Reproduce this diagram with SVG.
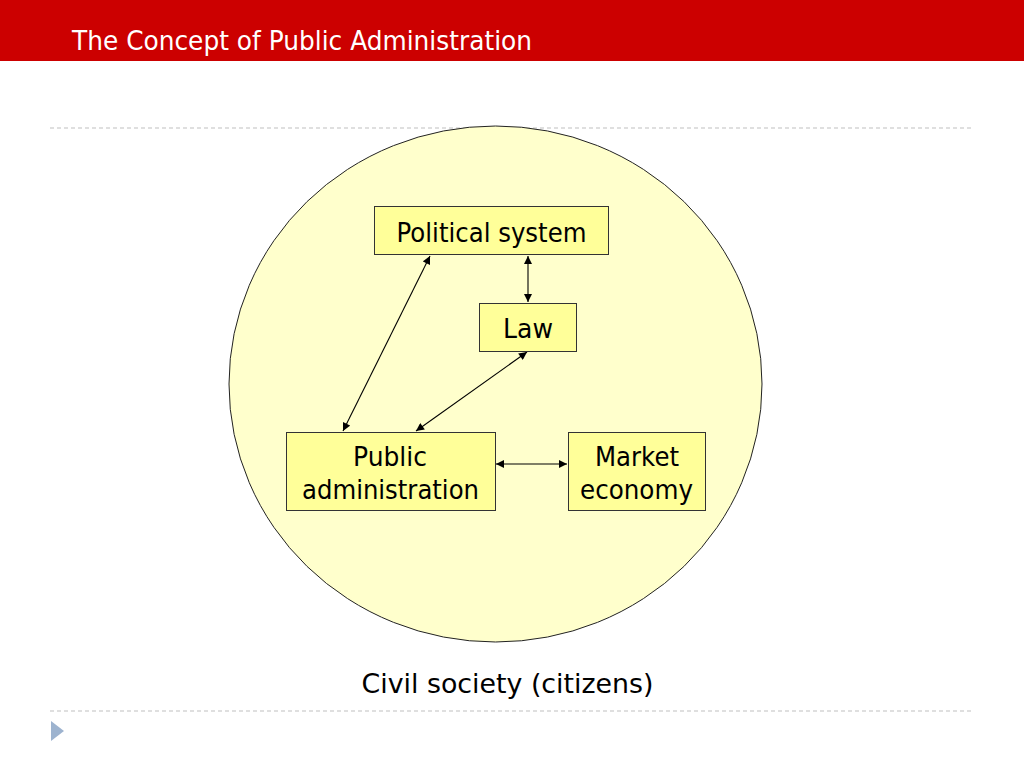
<svg xmlns="http://www.w3.org/2000/svg" width="1024" height="768" viewBox="0 0 1024 768">
  <style>
    .box { fill: #FFFF99; stroke: #333333; stroke-width: 1; }
    .lbl { font-family: "DejaVu Sans", "Liberation Sans", sans-serif; font-size: 27px; fill: #000000; }
    .conn { stroke: #000000; stroke-width: 1.1; fill: none; marker-start: url(#ah); marker-end: url(#ah); }
    .dash { stroke: #BFBFBF; stroke-width: 1; stroke-dasharray: 4 3; fill: none; }
  </style>
  <defs>
    <marker id="ah" viewBox="0 0 10 10" refX="10" refY="5" markerWidth="9" markerHeight="8" markerUnits="userSpaceOnUse" orient="auto-start-reverse">
      <path d="M0,0 L10,5 L0,10 Z" fill="#000000"/>
    </marker>
  </defs>
  <rect x="0" y="0" width="1024" height="768" fill="#FFFFFF"/>
  <g id="header">
    <rect x="0" y="0" width="1024" height="61" fill="#CC0000"/>
    <text x="72" y="50" font-family="DejaVu Sans, Liberation Sans, sans-serif" font-size="27" fill="#FFFFFF" textLength="460" lengthAdjust="spacingAndGlyphs">The Concept of Public Administration</text>
  </g>
  <line class="dash" x1="50" y1="128" x2="972" y2="128"/>
  <line class="dash" x1="50" y1="711" x2="972" y2="711"/>
  <g id="civil-society">
    <ellipse cx="495.5" cy="384" rx="266.5" ry="258" fill="#FFFFCC" stroke="#222222" stroke-width="1"/>
    <text x="507.5" y="693" class="lbl" font-size="29" text-anchor="middle" textLength="292" lengthAdjust="spacingAndGlyphs">Civil society (citizens)</text>
  </g>
  <g id="connectors">
    <line class="conn" x1="528" y1="256" x2="528" y2="302"/>
    <line class="conn" x1="430" y1="256" x2="343" y2="431"/>
    <line class="conn" x1="527" y1="352" x2="416" y2="431"/>
    <line class="conn" x1="496" y1="464" x2="567" y2="464"/>
  </g>
  <g id="political-system">
    <rect class="box" x="374.5" y="206.5" width="234" height="48"/>
    <text class="lbl" x="491.5" y="242" text-anchor="middle" textLength="190" lengthAdjust="spacingAndGlyphs">Political system</text>
  </g>
  <g id="law">
    <rect class="box" x="479.5" y="303.5" width="97" height="48"/>
    <text class="lbl" x="528" y="338" text-anchor="middle" textLength="50" lengthAdjust="spacingAndGlyphs">Law</text>
  </g>
  <g id="public-administration">
    <rect class="box" x="286.5" y="432.5" width="209" height="78"/>
    <text class="lbl" x="390" y="466" text-anchor="middle" textLength="74" lengthAdjust="spacingAndGlyphs">Public</text>
    <text class="lbl" x="390.5" y="499" text-anchor="middle" textLength="177" lengthAdjust="spacingAndGlyphs">administration</text>
  </g>
  <g id="market-economy">
    <rect class="box" x="568.5" y="432.5" width="137" height="78"/>
    <text class="lbl" x="637" y="466" text-anchor="middle" textLength="84" lengthAdjust="spacingAndGlyphs">Market</text>
    <text class="lbl" x="636.5" y="499" text-anchor="middle" textLength="113" lengthAdjust="spacingAndGlyphs">economy</text>
  </g>
  <polygon points="51,721 64,731 51,741" fill="#9DB3CF"/>
</svg>
